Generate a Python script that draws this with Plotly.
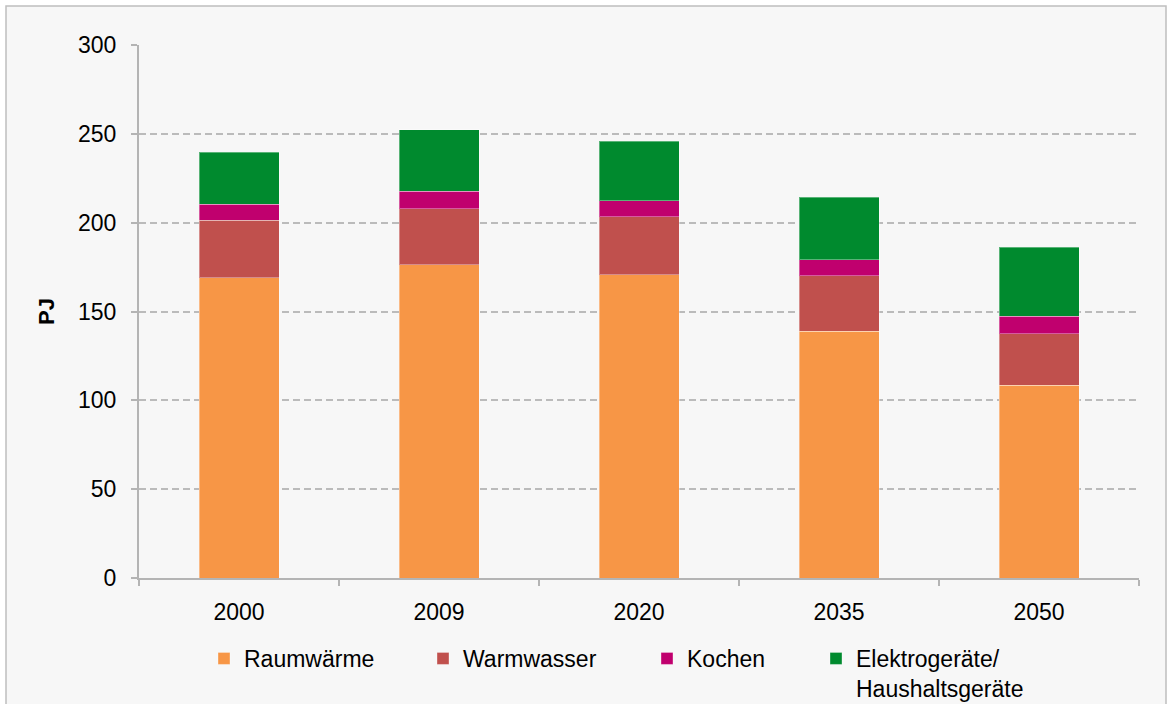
import plotly.graph_objects as go

# Endenergieverbrauch der Haushalte nach Verwendungszweck (PJ)
years = ["2000", "2009", "2020", "2035", "2050"]
raumwaerme = [169.0, 176.3, 170.7, 139.0, 108.5]
warmwasser = [32.5, 31.6, 32.7, 31.0, 29.0]
kochen = [9.0, 9.9, 9.0, 9.0, 9.8]
elektrogeraete = [29.1, 34.4, 33.4, 35.3, 38.8]

series = [
    ("Raumwärme", raumwaerme, "#F79646", "legend"),
    ("Warmwasser", warmwasser, "#C0504D", "legend2"),
    ("Kochen", kochen, "#C0006E", "legend3"),
    ("Elektrogeräte/<br>Haushaltsgeräte", elektrogeraete, "#008A2E", "legend4"),
]

FONT = "Liberation Sans, Arial, sans-serif"
W, H = 1173, 704
ML, MR, MT, MB = 139, 34, 45, 126
PW, PH = W - ML - MR, H - MT - MB


def px_x(p):
    return (p - ML) / PW


def px_y(p):
    return (H - MB - p) / PH


fig = go.Figure()
for name, vals, color, leg in series:
    fig.add_trace(go.Bar(
        x=years, y=vals, name=name,
        marker=dict(color=color, line=dict(width=1, color="rgba(255,255,255,0.35)")),
        legend=leg,
    ))

legend_common = dict(
    orientation="v", yanchor="top", xanchor="left",
    bgcolor="rgba(0,0,0,0)", borderwidth=0,
    font=dict(family=FONT, size=23, color="#000000"),
    valign="top", itemwidth=30, tracegroupgap=0,
)
legend_x = [224, 443, 667, 836]
legend_top = 637

layout_legends = {}
for i, key in enumerate(["legend", "legend2", "legend3", "legend4"]):
    layout_legends[key] = dict(legend_common, x=px_x(legend_x[i] - 20), y=px_y(legend_top))

fig.update_layout(
    width=W, height=H,
    margin=dict(l=ML, r=MR, t=MT, b=MB, autoexpand=False),
    barmode="stack", bargap=0.6,
    paper_bgcolor="#FFFFFF", plot_bgcolor="rgba(0,0,0,0)",
    font=dict(family=FONT, size=23, color="#000000"),
    showlegend=True,
    **layout_legends,
    xaxis=dict(
        type="category", showline=True, linecolor="#B4B4B4", linewidth=2,
        ticks="outside", tickson="boundaries", ticklen=6, tickwidth=2, tickcolor="#B4B4B4",
        ticklabelstandoff=12, showgrid=False,
        tickfont=dict(family=FONT, size=23, color="#000000"),
    ),
    yaxis=dict(
        range=[0, 300], dtick=50, showline=True, linecolor="#B4B4B4", linewidth=2,
        ticks="outside", ticklen=6, tickwidth=2, tickcolor="#B4B4B4",
        ticklabelstandoff=10, zeroline=False,
        showgrid=True, gridcolor="#BBBBBB", gridwidth=1.5, griddash="7px,4px",
        tickfont=dict(family=FONT, size=23, color="#000000"),
        title=dict(text="<b>PJ</b>", font=dict(family=FONT, size=22, color="#000000"), standoff=17),
    ),
    shapes=[dict(
        type="rect", xref="paper", yref="paper", layer="below",
        x0=px_x(6), x1=px_x(1166), y0=px_y(712), y1=px_y(6),
        line=dict(color="#BFBFBF", width=1.5), fillcolor="#F7F7F7",
    )],
)

fig.write_html("out.html")
